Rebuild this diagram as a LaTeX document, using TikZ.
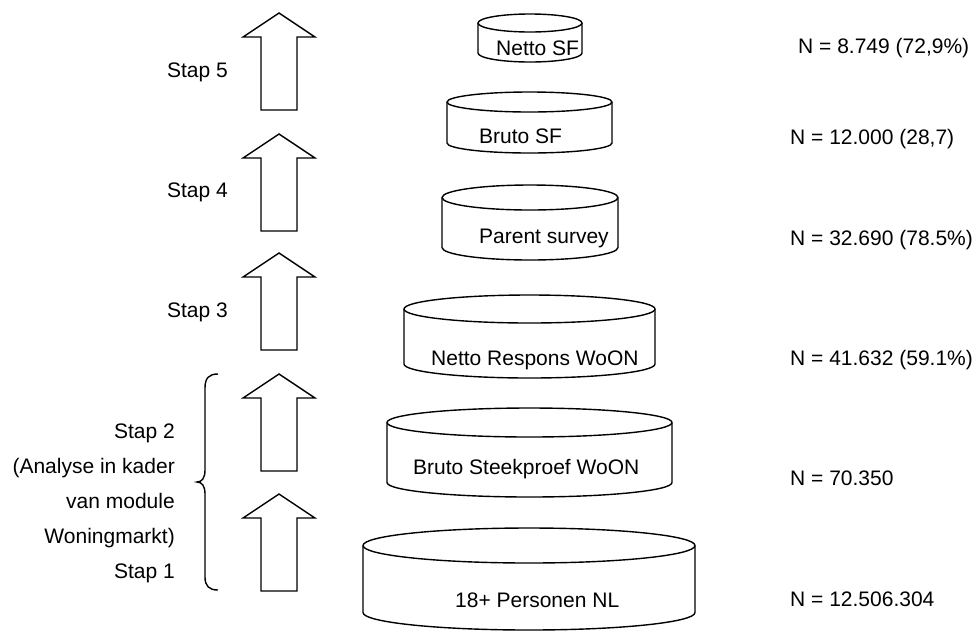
\documentclass[tikz,border=0pt]{standalone}
\usepackage{fontspec}
\setmainfont{Liberation Sans}
\newcommand\drawcyl[6]{% #1 name #2 left #3 right #4 top #5 bottom #6 ry
  \pgfmathsetmacro\cylcx{(#2+#3)/2}%
  \pgfmathsetmacro\cylrx{(#3-#2)/2}%
  \draw[cylline] (#2,#4+#6) -- (#2,#5-#6) arc[start angle=180,end angle=360,x radius=\cylrx pt,y radius=#6 pt] -- (#3,#4+#6);
  \draw[cylline] (\cylcx,#4+#6) ellipse [x radius=\cylrx pt, y radius=#6 pt];
  \coordinate (#1) at (\cylcx,#4+#6);
}
\newcommand\drawuparrow[2]{% #1 center x, #2 tip y
  \draw[blockarrow] (#1,#2) -- (#1+36,#2+24) -- (#1+18,#2+24) -- (#1+18,#2+97)
    -- (#1-18,#2+97) -- (#1-18,#2+24) -- (#1-36,#2+24) -- cycle;
}
\begin{document}
\begin{tikzpicture}[x=1pt,y=-1pt,
  cylline/.style={line width=1.4pt,fill=white,line join=round},
  blockarrow/.style={line width=1.4pt,fill=white,line join=miter},
  txt/.style={inner sep=0pt,font=\fontsize{21}{25}\selectfont},
  bracepath/.style={line width=1.4pt}]
\useasboundingbox (0,0) rectangle (979,633);

% cylinders
\drawcyl{c1}{478}{582}{14}{62}{9}
\drawcyl{c2}{447}{612}{92}{153}{10}
\drawcyl{c3}{442}{618}{185}{260}{12.5}
\drawcyl{c4}{404}{655}{295}{378}{14}
\drawcyl{c5}{387}{672}{408}{497}{14.5}
\drawcyl{c6}{363}{695}{528}{630}{17.5}

\node[txt,anchor=base west] (t1) at (496,55) {Netto SF};
\node[txt,anchor=base west] (t2) at (479,143) {Bruto SF};
\node[txt,anchor=base west] (t3) at (479,243) {Parent survey};
\node[txt,anchor=base west] (t4) at (431,365) {Netto Respons WoON};
\node[txt,anchor=base west] (t5) at (413,474) {Bruto Steekproef WoON};
\node[txt,anchor=base west] (t6) at (455,607) {18+ Personen NL};

% N labels
\node[txt,anchor=base west] (n1) at (798,53) {N = 8.749 (72,9\%)};
\node[txt,anchor=base west] (n2) at (790,144) {N = 12.000 (28,7)};
\node[txt,anchor=base west] (n3) at (790,245) {N = 32.690 (78.5\%)};
\node[txt,anchor=base west] (n4) at (790,365) {N = 41.632 (59.1\%)};
\node[txt,anchor=base west] (n5) at (790,485) {N = 70.350};
\node[txt,anchor=base west] (n6) at (790,606) {N = 12.506.304};

% arrows
\drawuparrow{279}{13}
\drawuparrow{279}{134}
\drawuparrow{279}{253}
\drawuparrow{279}{374}
\drawuparrow{279}{494}

% step labels
\node[txt,anchor=base east] (s5) at (228,77.5) {Stap 5};
\node[txt,anchor=base east] (s4) at (228,197.5) {Stap 4};
\node[txt,anchor=base east] (s3) at (228,317.5) {Stap 3};
\node[txt,anchor=base east] (s2a) at (175,438) {Stap 2};
\node[txt,anchor=base east] (s2b) at (175,473) {(Analyse in kader};
\node[txt,anchor=base east] (s2c) at (175,508) {van module};
\node[txt,anchor=base east] (s2d) at (175,543) {Woningmarkt)};
\node[txt,anchor=base east] (s1) at (175,578) {Stap 1};

% brace
\draw[bracepath] (218,374) .. controls (209,374) and (205,378) .. (205,388)
  -- (205,470) .. controls (205,478) and (202,482) .. (197,482)
  .. controls (202,482) and (205,486) .. (205,494)
  -- (205,577) .. controls (205,586) and (209,590) .. (218,590);
\end{tikzpicture}
\end{document}
